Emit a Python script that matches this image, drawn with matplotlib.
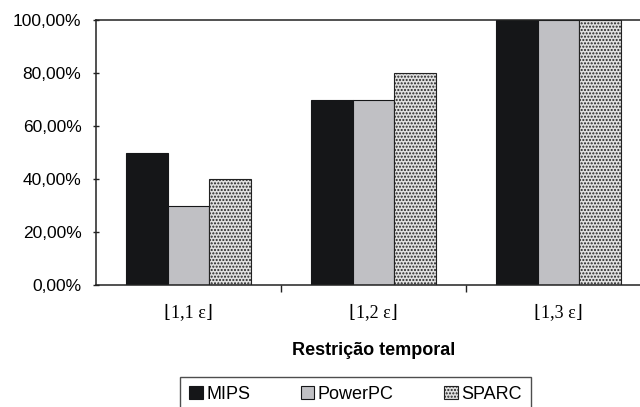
import matplotlib
matplotlib.use("Agg")
import matplotlib.pyplot as plt
import numpy as np
from matplotlib.ticker import FuncFormatter

categories = ["⌊1,1 ε⌋", "⌊1,2 ε⌋", "⌊1,3 ε⌋"]
series_names = ["MIPS", "PowerPC", "SPARC"]
mips = [50, 70, 100]
powerpc = [30, 70, 100]
sparc = [40, 80, 100]

plt.rcParams['font.family'] = ['Liberation Sans', 'DejaVu Sans']
plt.rcParams['hatch.linewidth'] = 1.0

fig = plt.figure(figsize=(6.4, 4.07), dpi=100)
ax = fig.add_axes([96/640, 1-285/407, (651-96)/640, (285-20)/407])

x = np.arange(len(categories))
w = 0.227
styles = [
    dict(color="#151618", edgecolor="#151618"),
    dict(color="#c0c0c4", edgecolor="#151618"),
    dict(facecolor="#e0e0e0", edgecolor="#222222", hatch="....."),
]
handles = []
for i, (vals, name, st) in enumerate(zip([mips, powerpc, sparc], series_names, styles)):
    b = ax.bar(x + (i - 1) * w, vals, w, label=name, linewidth=0.8, **st)
    handles.append(b)

ax.set_xlim(-0.5, 2.5)
ax.set_ylim(0, 100)
ax.set_yticks(np.arange(0, 101, 20))
ax.yaxis.set_major_formatter(FuncFormatter(lambda v, p: f"{v:.2f}".replace(".", ",") + "%"))
ax.set_xticks(x)
ax.set_xticklabels(categories, family=['Liberation Serif', 'DejaVu Serif'], fontsize=13)
ax.set_xticks([0.5, 1.5], minor=True)
ax.tick_params(axis='x', which='major', length=0, pad=14)
ax.tick_params(axis='x', which='minor', length=5, width=1, color='#222222', direction='out')
ax.tick_params(axis='y', length=5, width=1, color='#222222', labelsize=12.5, pad=8, direction='inout')
for s in ['left', 'bottom', 'top']:
    ax.spines[s].set_color('#222222')
    ax.spines[s].set_linewidth(1.1)
ax.spines['right'].set_visible(False)

ax.set_xlabel("Restrição temporal", fontsize=13, fontweight='bold', labelpad=15)

leg = fig.legend(handles=handles, labels=series_names, loc='upper left',
                 bbox_to_anchor=(180/640, 1-377/407), ncol=3, frameon=True,
                 fancybox=False, edgecolor='#222222', fontsize=13,
                 handlelength=0.75, handleheight=0.75, handletextpad=0.2,
                 columnspacing=2.8, borderpad=0.5, borderaxespad=0)
leg.get_frame().set_linewidth(1.0)

fig.savefig("out.png", dpi=100)
